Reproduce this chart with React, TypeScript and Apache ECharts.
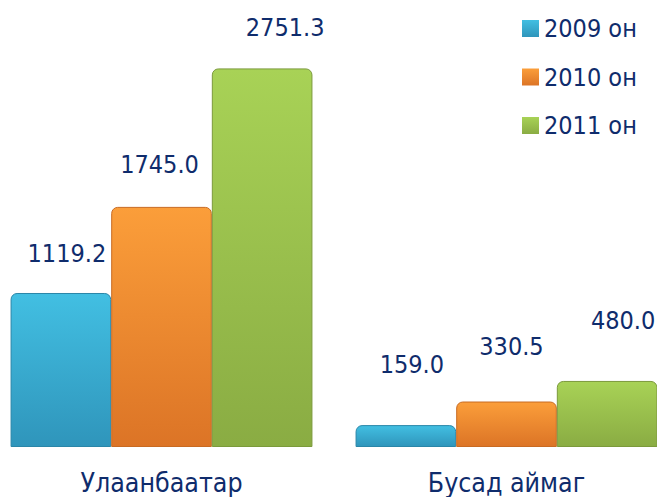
import React, { useEffect, useRef } from "react";
import * as echarts from "echarts";

const categories = ["Улаанбаатар", "Бусад аймаг"];
const seriesNames = ["2009 он", "2010 он", "2011 он"];
const values2009 = [1119.2, 159.0];
const values2010 = [1745.0, 330.5];
const values2011 = [2751.3, 480.0];

const FONT = "'DejaVu Sans Condensed', 'DejaVu Sans', sans-serif";
const TEXT = "#0f2c6c";
const SHIFT = 11;

const palettes = [
  { top: "#42bfe2", bottom: "#2f95bb", edge: "#2a86a8" },
  { top: "#fb9e3a", bottom: "#dc7426", edge: "#c86a22" },
  { top: "#a8d256", bottom: "#8aac43", edge: "#7b9a3b" },
];

// label offsets [dx, distance] per series per category
const labelTweaks = [
  [[6, 27], [6, 49]],
  [[-2, 30], [5, 43]],
  [[23, 29], [16, 48]],
];

export default function App() {
  const ref = useRef<HTMLDivElement>(null);
  useEffect(() => {
    if (!ref.current) return;
    const chart = echarts.init(ref.current, null, { renderer: "svg" });
    const all = [values2009, values2010, values2011];
    const series = all.map((vals, si) => {
      const p = palettes[si];
      return {
        name: seriesNames[si],
        type: "bar",
        barGap: "0%",
        barCategoryGap: "12.5%",
        itemStyle: {
          color: new echarts.graphic.LinearGradient(0, 0, 0, 1, [
            { offset: 0, color: p.top },
            { offset: 1, color: p.bottom },
          ]),
          borderColor: p.edge,
          borderWidth: 1,
          borderRadius: [6, 6, 0, 0],
        },
        data: vals.map((v, ci) => ({
          value: v,
          label: {
            show: true,
            position: "top",
            distance: labelTweaks[si][ci][1],
            offset: [labelTweaks[si][ci][0], 0],
            formatter: (prm: any) => Number(prm.value).toFixed(1),
            fontFamily: FONT,
            fontSize: 25,
            lineHeight: 24,
            color: TEXT,
          },
        })),
      };
    });
    chart.setOption({
      animation: false,
      backgroundColor: "#ffffff",
      grid: { left: 0, right: 0, top: 34.2, bottom: 50, containLabel: false },
      legend: {
        orient: "vertical",
        left: 522 + SHIFT,
        top: 16,
        icon: "rect",
        itemWidth: 17,
        itemHeight: 17,
        itemGap: 23.5,
        itemTextGap: 6,
        textStyle: { fontFamily: FONT, fontSize: 25, lineHeight: 24, color: TEXT },
        data: seriesNames.map((n, i) => ({
          name: n,
          itemStyle: {
            color: new echarts.graphic.LinearGradient(0, 0, 0, 1, [
              { offset: 0, color: palettes[i].top },
              { offset: 1, color: palettes[i].bottom },
            ]),
            borderWidth: 0,
          },
        })),
        padding: 0,
        itemStyle: { borderWidth: 0 },
      },
      xAxis: {
        type: "category",
        data: categories,
        axisLine: { show: false },
        axisTick: { show: false },
        axisLabel: { fontFamily: FONT, fontSize: 26.5, lineHeight: 26, color: TEXT, margin: 22 },
      },
      yAxis: {
        type: "value",
        min: 0,
        max: 3000,
        show: false,
        splitLine: { show: false },
      },
      series,
    });
    return () => chart.dispose();
  }, []);
  return (
    <div style={{ position: "absolute", left: 0, top: 0, width: 657, height: 497, overflow: "hidden", background: "#fff" }}>
      <div ref={ref} style={{ width: 690, height: 497, position: "absolute", left: -SHIFT, top: 0 }} />
    </div>
  );
}
